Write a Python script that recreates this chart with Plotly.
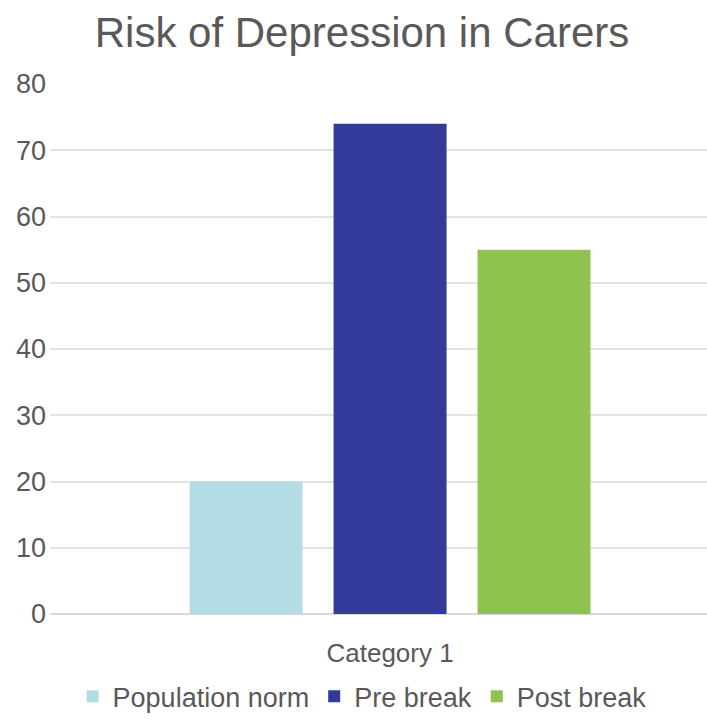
import plotly.graph_objects as go

categories = ["Category 1"]
series_names = ["Population norm", "Pre break", "Post break"]
series_values = [[20], [74], [55]]
colors = ["#b4dce5", "#333a99", "#90c24f"]
y_ticks = [0, 10, 20, 30, 40, 50, 60, 70, 80]

fig = go.Figure()
for name, vals, c in zip(series_names, series_values, colors):
    fig.add_trace(go.Bar(name=name, x=categories, y=vals, marker_color=c,
                         marker_line_width=0))

font_family = "Liberation Sans, Arial, sans-serif"
fig.update_layout(
    width=707, height=722,
    paper_bgcolor="white", plot_bgcolor="white",
    margin=dict(l=50, r=0, t=84, b=108),
    title=dict(text="Risk of Depression in Carers", x=0.512, xanchor="center",
               y=1 - 32 / 722, yanchor="middle",
               font=dict(family=font_family, size=42, color="#595959")),
    barmode="group", bargap=0.365, bargroupgap=0.215,
    showlegend=True,
    legend=dict(orientation="h", x=0.475, xanchor="center", y=-0.156, yanchor="middle",
                font=dict(family=font_family, size=27, color="#595959"),
                itemwidth=30, traceorder="normal"),
    font=dict(family=font_family, color="#595959"),
)
fig.update_yaxes(range=[0, 80], tickvals=y_ticks, showgrid=True, gridcolor="#e3e3e3",
                 gridwidth=2, zeroline=True, zerolinecolor="#d9d9d9", zerolinewidth=2,
                 tickfont=dict(size=27, color="#595959"), ticks="", showline=False,
                 ticklabelstandoff=3)
fig.update_xaxes(range=[-0.5, 0.466], tickfont=dict(size=26, color="#595959"),
                 ticks="", showline=False, ticklabelstandoff=21)
fig.write_html("out.html")
